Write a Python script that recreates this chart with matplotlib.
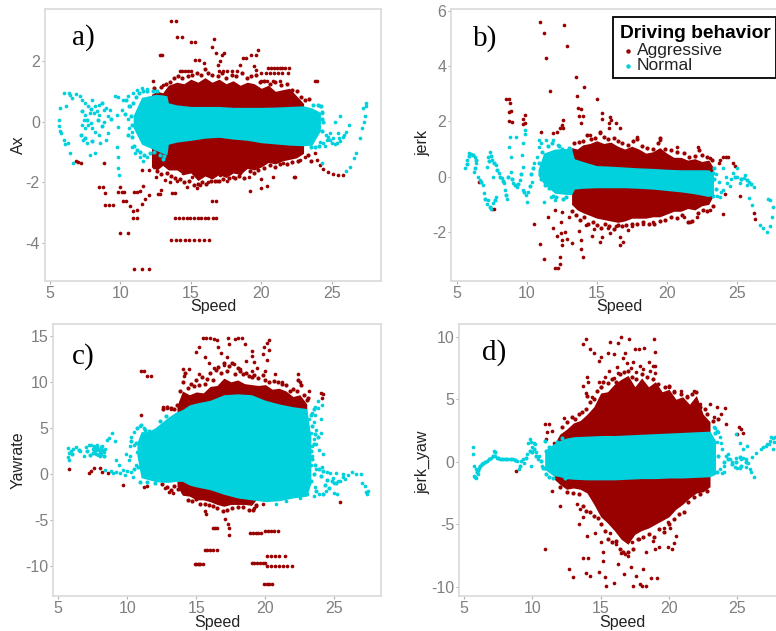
import matplotlib
matplotlib.use('Agg')
import matplotlib.pyplot as plt
from matplotlib.lines import Line2D
from matplotlib.patches import Rectangle

W, H = 776, 631
RED = '#990000'
CYAN = '#00D1DC'

# The dense middle of each cloud cannot be read point by point, so it is kept
# as the edges read off the picture and filled. Everything else is single points.

# panel a: Ax
a_red_band_x = [12.2, 12.6, 13.0, 13.4, 14.0, 14.5, 15.0, 15.5, 16.0, 16.5, 17.0, 17.5, 18.0, 18.5, 19.0, 19.5, 20.0, 20.5, 21.0, 21.5, 22.0, 22.5, 23.0]
a_red_band_hi = [0.9, 1.0, 0.95, 1.2, 1.3, 1.25, 1.4, 1.3, 1.45, 1.3, 1.4, 1.25, 1.35, 1.2, 1.3, 1.25, 1.1, 1.2, 1.0, 1.05, 1.1, 0.85, 0.6]
a_red_band_lo = [-1.5, -1.6, -1.45, -1.6, -1.6, -1.75, -1.7, -1.95, -1.8, -1.9, -1.75, -1.85, -1.7, -1.75, -1.55, -1.6, -1.5, -1.35, -1.4, -1.3, -1.25, -1.2, -1.05]
a_cyan_band_x = [10.9, 11.5, 12.0, 12.5, 13.0, 13.3, 13.4, 14.0, 15.0, 16.0, 17.0, 18.0, 19.0, 20.0, 21.0, 22.0, 23.0, 23.6, 24.2]
a_cyan_band_hi = [0.2, 0.8, 0.85, 0.9, 0.88, 0.85, 0.62, 0.55, 0.5, 0.5, 0.5, 0.47, 0.47, 0.47, 0.48, 0.5, 0.52, 0.45, 0.3]
a_cyan_band_lo = [-0.2, -0.75, -0.85, -0.95, -1.05, -1.1, -0.75, -0.68, -0.62, -0.55, -0.52, -0.58, -0.62, -0.7, -0.74, -0.78, -0.8, -0.78, -0.3]
a_red_x = [13.6, 13.92, 14.0, 14.35, 15.0, 15.3, 12.8, 12.95, 16.67, 16.5, 16.8, 17.35, 17.2, 17.05, 16.95, 15.3, 15.55, 15.9, 18.7, 18.9, 18.5, 19.3, 19.6, 19.8, 19.45, 19.6,
           20.5, 20.7, 20.9, 21.1, 21.3, 21.5, 21.7, 22.0, 14.2, 14.4, 14.6, 14.8, 15.0, 17.0, 17.3, 17.6, 17.9, 18.3, 20.0, 20.3, 20.6, 20.9, 21.2, 21.5, 21.9, 20.0, 20.4, 20.8, 21.3, 23.8, 23.95, 12.3, 13.0,
           13.9, 14.15, 14.45, 14.7, 14.95, 15.2, 15.5, 15.75, 16.0, 16.25, 16.55, 16.8, 13.6, 13.95, 14.25, 14.55, 14.85, 15.2, 15.55, 15.9, 16.3, 10.95, 11.5, 12.05, 10.0, 10.5, 10.9, 11.2, 10.9, 11.2, 10.7, 10.2, 10.4, 8.9, 9.2, 9.5, 8.5, 8.75, 8.9, 10.0, 9.85, 10.1, 10.25, 10.95, 11.15, 11.4, 11.6, 11.75, 11.55, 12.0, 12.65, 12.8, 12.85, 13.65, 13.9, 16.5, 16.8, 19.2, 20.0, 20.4, 20.85, 22.3, 22.4, 20.0, 6.85, 7.0, 7.2, 8.8,
           23.8, 23.95, 24.2, 24.4, 24.75, 25.1, 25.45, 25.8, 14.7, 15.4, 15.65, 16.25, 16.85, 17.55, 18.0, 19.1, 14.0, 13.5, 13.15, 12.55, 12.0, 11.5, 12.35, 14.45, 15.05, 15.9, 17.05, 18.5, 19.7, 21.55, 22.75, 23.1]
a_red_y = [3.32, 3.32, 2.78, 2.78, 2.62, 2.62, 2.2, 2.2, 2.73, 2.45, 2.26, 2.28, 2.2, 2.0, 1.87, 2.04, 2.04, 1.93, 2.09, 2.09, 1.87, 2.2, 2.2, 2.37, 1.84, 1.7,
           1.78, 1.78, 1.78, 1.78, 1.78, 1.78, 1.78, 1.78, 1.68, 1.68, 1.68, 1.68, 1.68, 1.68, 1.68, 1.68, 1.68, 1.68, 1.6, 1.6, 1.6, 1.6, 1.6, 1.6, 1.6, 1.33, 1.33, 1.33, 1.33, 1.33, 1.33, 1.33, 1.2,
           -3.2, -3.2, -3.2, -3.2, -3.2, -3.2, -3.2, -3.2, -3.2, -3.2, -3.2, -3.2, -3.93, -3.93, -3.93, -3.93, -3.93, -3.93, -3.93, -3.93, -3.93, -4.88, -4.88, -4.88, -3.7, -3.7, -3.2, -3.2, -2.95, -2.92, -2.78, -2.62, -2.64, -2.75, -2.75, -2.75, -2.17, -2.17, -2.35, -2.17, -2.34, -2.34, -2.32, -2.32, -2.32, -2.3, -2.13, -2.57, -2.73, -2.42, -2.4, -2.4, -2.26, -2.37, -2.37, -2.61, -2.61, -2.28, -2.2, -2.12, -1.84, -1.82, -1.82, -1.9, -1.29, -1.34, -1.38, -1.36,
           -1.05, -1.27, -1.45, -1.56, -1.66, -1.74, -1.78, -1.76, -2.15, -2.2, -2.1, -2.0, -1.98, -1.98, -1.82, -1.82, -1.98, -2.0, -1.93, -1.82, -1.6, -1.6, -1.5, -1.7, -1.82, -1.7, -1.76, -1.7, -1.5, -1.37, -1.27, -1.16]
a_cyan_x = [5.65, 5.65, 5.7, 5.75, 5.7, 6.1, 6.0, 6.05, 6.3, 6.45, 6.6, 6.35, 6.0, 6.45, 6.55, 6.85, 7.1, 7.25, 7.5, 7.7, 8.0, 8.2, 8.45, 7.5, 7.85, 8.1, 8.45, 8.8, 9.0, 9.25, 7.25, 7.5, 7.7, 8.0, 8.2, 8.45, 7.35, 7.6, 7.85, 8.2, 8.55, 9.0, 9.15, 8.8, 9.15, 9.6, 9.85, 9.75, 9.8, 9.75, 9.8, 9.85, 9.9, 10.2, 10.1, 10.55, 10.7, 10.9, 11.15, 11.5, 11.85, 10.8, 10.8, 11.0, 11.4, 11.6, 11.85, 10.5, 10.6, 7.4, 7.9, 8.3,
            27.4, 27.45, 27.25, 27.35, 27.3, 27.15, 27.0, 26.75, 26.6, 26.3, 26.05, 25.6, 25.25, 24.9, 26.2, 26.05, 25.8, 25.45, 25.1, 24.65, 24.4, 25.35, 24.75, 24.2, 24.05, 24.3, 24.15, 24.3, 24.5, 24.9, 25.2, 25.6, 25.9, 24.6, 25.0, 25.5]
a_cyan_y = [0.05, -0.15, -0.3, -0.37, 0.44, 0.5, -0.6, -0.75, -0.7, -1.05, -1.38, 0.94, 0.96, 0.88, 0.77, 0.91, 0.83, 0.72, 0.6, 0.5, 0.72, 0.5, 0.55, 0.22, 0.28, 0.28, 0.22, 0.38, 0.44, 0.38, -0.11, -0.22, -0.11, -0.22, -0.33, -0.44, -0.6, -0.72, -1.1, -1.05, -0.72, -0.6, -0.39, 0.0, 0.17, 0.83, 0.8, 0.22, -0.17, -0.83, -1.16, -1.54, -1.76, 0.72, 0.38, 0.83, 0.5, 0.94, 1.05, 1.1, 1.07, -0.33, -0.83, -1.05, -1.16, -1.32, -1.16, 0.1, -0.2, 0.05, -0.05, 0.35,
            0.6, 0.5, 0.44, 0.17, 0.0, -0.22, -0.55, -1.05, -1.2, -1.5, -1.65, 0.17, 0.0, -0.39, -0.11, -0.33, -0.5, -0.39, -0.55, -0.6, -0.72, -0.72, -0.5, -0.66, -0.17, 0.28, 0.5, -1.38, -0.8, -0.6, -0.75, -0.65, -0.45, -0.45, -0.7, -0.55]
a_red_edge = [(12.4, 1.1), (12.9, 1.15), (13.2, 1.25), (13.5, 1.3), (13.8, 1.45), (14.1, 1.5), (14.4, 1.45), (14.8, 1.5), (15.1, 1.55), (15.4, 1.6), (15.7, 1.55), (16.0, 1.75), (16.2, 1.6), (16.5, 1.55), (16.9, 1.5), (17.2, 1.6), (17.5, 1.45), (17.9, 1.55), (18.2, 1.5), (18.6, 1.6), (19.0, 1.45), (19.3, 1.5), (19.6, 1.55), (19.9, 1.3), (20.2, 1.35), (20.6, 1.25), (21.0, 1.3), (21.4, 1.2), (21.8, 1.25), (22.2, 1.05), (22.5, 1.0), (22.8, 0.8), (23.1, 0.7), (23.4, 0.75),
              (12.6, -1.65), (12.9, -1.75), (13.3, -1.7), (13.6, -1.8), (13.9, -1.85), (14.2, -1.9), (14.5, -2.0), (14.9, -1.95), (15.2, -2.1), (15.5, -2.05), (15.8, -2.0), (16.1, -2.05), (16.4, -1.95), (16.7, -1.95), (17.0, -1.95), (17.3, -1.9), (17.7, -1.85), (18.1, -1.85), (18.4, -1.8), (18.8, -1.85), (19.2, -1.65), (19.5, -1.7), (19.8, -1.6), (20.2, -1.55), (20.6, -1.45), (21.0, -1.5), (21.3, -1.4), (21.8, -1.4), (22.2, -1.35), (22.6, -1.3), (23.3, -1.1), (23.5, -1.3)]
a_cyan_edge = [(10.75, 0.2), (10.8, -0.1), (10.8, -0.5), (10.9, 0.6), (10.95, -0.8), (11.1, 0.8), (11.2, -0.95), (11.3, 0.95), (11.4, -1.0), (11.6, 1.0), (11.7, -1.1), (11.9, 1.0), (12.1, -1.05), (12.3, 1.0), (12.6, 1.0), (12.8, -1.1), (13.0, -1.25), (13.1, -1.15), (12.4, -1.0), (24.3, 0.3), (24.3, -0.3), (24.35, 0.0), (24.3, 0.1), (24.25, 0.5), (24.0, 0.55), (23.7, 0.55), (23.5, -0.85), (23.8, -0.85), (24.1, -0.8),
               (7.3, 0.35), (7.6, 0.05), (7.9, 0.4), (8.4, 0.05), (8.7, -0.15), (7.2, -0.45), (7.5, -0.55), (8.0, -0.65), (8.7, 0.6), (9.3, 0.1), (10.5, -0.45), (10.3, 0.25), (10.6, 0.5), (10.4, 0.7)]

# panel b: jerk
b_red_band_x = [13.2, 13.6, 14.0, 14.5, 15.0, 15.5, 16.0, 16.5, 17.0, 17.5, 18.0, 18.5, 19.0, 19.5, 20.0, 20.5, 21.0, 21.5, 22.0, 22.5, 23.0, 23.3]
b_red_band_hi = [1.05, 1.0, 1.15, 1.2, 1.3, 1.2, 1.25, 1.1, 1.0, 1.1, 1.0, 0.85, 0.9, 1.05, 0.85, 0.7, 0.7, 0.6, 0.65, 0.55, 0.6, 0.35]
b_red_band_lo = [-1.0, -1.2, -1.3, -1.4, -1.5, -1.55, -1.6, -1.65, -1.6, -1.5, -1.5, -1.5, -1.45, -1.45, -1.35, -1.25, -1.25, -1.15, -1.2, -1.05, -1.0, -0.7]
b_cyan_band_x = [10.8, 11.2, 12.0, 13.0, 13.2, 13.4, 14.0, 15.0, 16.0, 17.0, 18.0, 19.0, 20.0, 21.0, 22.0, 23.0, 23.3]
b_cyan_band_hi = [0.25, 0.85, 1.0, 1.02, 1.0, 0.65, 0.55, 0.4, 0.38, 0.35, 0.32, 0.3, 0.27, 0.25, 0.25, 0.25, 0.1]
b_cyan_band_lo = [0.05, -0.25, -0.6, -0.65, -0.65, -0.45, -0.42, -0.4, -0.4, -0.4, -0.42, -0.45, -0.5, -0.55, -0.62, -0.72, -0.65]
b_red_x = [10.95, 11.2, 11.35, 12.65, 12.9, 11.65, 13.55, 14.1, 13.6, 15.0, 8.5, 8.75, 8.8, 8.75, 8.85, 8.7, 8.95, 9.85, 9.75, 9.9, 9.75, 13.65, 13.9, 13.7, 14.0, 13.9, 12.6, 12.5, 12.6, 12.4, 11.0, 11.9, 12.15, 15.4, 15.35, 15.95, 16.05, 15.85, 15.85, 16.4, 16.65, 15.2, 14.5, 17.85, 19.5, 20.7, 22.25, 23.1, 23.7, 23.8, 24.05, 24.4, 24.7, 24.9, 24.2,
           12.05, 12.25, 12.35, 12.4, 11.25, 10.95, 10.5, 14.0, 13.9, 13.9, 12.55, 12.5, 12.85, 12.15, 12.45, 12.75, 11.85, 11.55, 12.05, 12.45, 12.5, 13.0, 13.2, 13.7, 14.65, 15.25, 15.35, 16.65, 16.65, 16.9, 17.2, 15.95, 7.5, 7.65, 6.6, 26.25, 26.3, 24.05, 24.15, 25.25, 23.1, 21.65, 22.15, 21.2, 14.2, 14.8, 15.8, 16.4, 17.5, 18.3, 19.0]
b_red_y = [5.6, 5.18, 4.3, 5.48, 4.72, 3.1, 3.6, 3.23, 2.9, 2.82, 2.8, 2.8, 2.65, 2.35, 2.38, 2.02, 1.96, 2.23, 2.1, 1.93, 1.9, 2.5, 2.43, 2.2, 2.2, 1.93, 2.05, 1.87, 1.75, 1.75, 1.6, 1.57, 1.63, 2.3, 2.1, 2.17, 2.05, 1.93, 1.75, 1.95, 1.75, 1.57, 1.5, 1.45, 1.33, 1.08, 1.08, 0.66, 0.48, 0.6, 0.7, 0.7, 0.5, 0.4, 0.72,
           -3.29, -3.29, -3.17, -2.9, -2.96, -2.43, -1.71, -2.9, -2.63, -2.29, -2.47, -2.29, -2.27, -2.14, -2.05, -2.0, -1.87, -1.45, -1.2, -1.63, -1.27, -1.45, -2.41, -1.95, -2.14, -2.35, -2.17, -2.19, -2.47, -2.35, -1.93, -2.05, -1.17, -1.17, -0.18, -1.33, -1.53, -1.35, -0.63, -0.7, -1.2, -1.63, -1.45, -1.45, -1.75, -1.9, -1.85, -1.8, -1.8, -1.7, -1.65]
b_cyan_x = [5.6, 5.75, 5.85, 6.05, 6.3, 6.4, 6.25, 6.5, 6.65, 6.85, 6.95, 7.15, 7.25, 7.45, 7.6, 7.8, 7.4, 7.2, 7.15, 7.5, 7.8, 8.0, 7.6, 8.2, 8.45, 8.6, 8.35, 8.85, 9.05, 9.3, 9.5, 8.8, 8.75, 8.9, 9.25, 9.7, 9.85, 9.9, 9.65, 9.75, 9.75, 9.95, 10.1, 10.35, 10.5, 10.7, 10.05, 11.2, 10.85, 10.85, 11.05, 11.4, 11.9, 12.2, 11.7, 12.0,
            25.0, 25.5, 25.85, 26.2, 24.3, 24.05, 24.6, 25.25, 25.6, 24.75, 25.0, 25.85, 26.07, 26.67, 26.9, 27.15, 27.4, 27.55, 27.57, 27.4, 27.25, 23.5, 23.7, 23.9, 24.2, 23.6, 23.8, 24.5, 25.3, 25.7, 24.0]
b_cyan_y = [0.3, 0.6, 0.84, 0.82, 0.72, 0.48, 0.18, 0.0, -0.12, -0.3, -0.6, -1.0, -0.85, -1.18, -0.96, -0.72, 0.9, 0.72, 0.36, 0.6, 0.42, 0.12, 0.0, -0.06, -0.48, -0.8, -0.24, 0.18, -0.24, -0.36, -0.12, 1.45, 1.08, 0.72, 1.45, 1.2, 1.68, 1.55, 0.78, 0.36, -0.48, -0.66, -0.54, -0.18, 0.48, 0.72, -0.93, -0.93, 1.33, 1.08, 1.2, 1.33, 1.33, 1.15, -0.75, -0.85,
            0.0, -0.06, -0.18, -0.38, -0.24, -0.48, -0.1, -0.24, 0.06, 0.12, 0.3, -0.78, -1.02, -1.75, -1.87, -1.99, -1.8, -1.45, -1.08, -0.84, -0.8, 0.1, -0.2, -0.55, 0.0, -0.7, -0.75, -0.35, -0.1, -0.3, 0.3]
b_red_edge = [(13.4, 1.2), (13.7, 1.25), (14.0, 1.3), (14.3, 1.5), (14.6, 1.35), (14.9, 1.4), (15.2, 1.6), (15.5, 1.45), (15.8, 1.35), (16.2, 1.4), (16.5, 1.3), (16.8, 1.2), (17.2, 1.15), (17.6, 1.3), (17.85, 1.35), (18.2, 1.1), (18.6, 1.05), (19.0, 1.0), (19.4, 1.2), (19.55, 1.38), (19.9, 1.0), (20.3, 0.95), (20.7, 0.9), (21.2, 0.85), (21.6, 0.7), (22.0, 0.75), (22.3, 0.98), (22.5, 0.8), (22.9, 0.7), (23.2, 0.6),
              (13.2, -1.25), (13.5, -1.4), (13.8, -1.55), (14.1, -1.45), (14.4, -1.7), (14.7, -1.65), (15.0, -1.75), (15.3, -1.85), (15.6, -1.7), (15.9, -1.8), (16.2, -1.9), (16.5, -1.75), (16.8, -1.8), (17.1, -1.75), (17.5, -1.7), (17.9, -1.7), (18.3, -1.65), (18.7, -1.7), (19.1, -1.7), (19.5, -1.6), (19.9, -1.55), (20.3, -1.45), (20.7, -1.5), (21.1, -1.4), (21.5, -1.65), (21.8, -1.6), (22.2, -1.3), (22.6, -1.2), (22.9, -1.25), (23.3, -1.05)]
b_cyan_edge = [(10.85, 0.5), (11.0, -0.1), (11.1, 0.9), (11.3, -0.3), (11.5, 1.1), (11.6, -0.4), (11.8, 1.2), (11.9, -0.7), (12.1, -0.75), (12.3, 1.1), (12.5, 1.0), (12.6, -0.8), (12.8, -0.75), (13.0, 1.05), (13.1, 1.0), (23.3, 0.15), (23.4, -0.1), (23.5, -0.45), (23.4, 0.3), (23.3, -0.7),
               (5.7, 0.45), (5.9, 0.75), (6.15, 0.8), (6.35, 0.6), (6.3, 0.3), (6.75, -0.2), (7.05, -0.8), (7.35, -1.1), (7.7, -0.85), (7.3, 0.55), (7.45, 0.75), (7.65, 0.5), (7.9, 0.25), (8.1, 0.0), (8.3, -0.15), (8.55, -0.65), (8.65, 0.0), (8.95, -0.1), (9.15, -0.3), (9.4, -0.25), (9.6, 0.1), (9.8, -0.55), (10.2, -0.35), (10.3, 0.1), (10.45, 0.3), (24.9, 0.0), (25.3, -0.1), (25.7, -0.12), (26.0, -0.28)]

# panel c: Yawrate
c_red_band_x = [13.6, 14.0, 14.5, 15.0, 15.5, 16.0, 16.5, 17.0, 17.5, 18.0, 18.5, 19.0, 19.5, 20.0, 20.5, 21.0, 21.5, 22.0, 22.5, 23.0]
c_red_band_hi = [7.4, 9.0, 8.6, 8.9, 8.8, 9.5, 9.6, 10.4, 10.0, 10.2, 9.8, 9.7, 9.6, 9.7, 9.2, 9.3, 9.0, 8.4, 8.6, 7.6]
c_red_band_lo = [-1.3, -2.3, -2.4, -2.8, -2.8, -3.0, -3.3, -3.5, -3.3, -3.3, -3.3, -3.4, -2.5, -2.5, -2.0, -2.0, -2.0, -2.0, -2.0, -2.0]
c_cyan_band_x = [10.7, 11.0, 11.5, 12.0, 12.5, 13.0, 13.5, 14.0, 14.5, 15.0, 16.0, 17.0, 18.0, 19.0, 20.0, 21.0, 22.0, 23.0, 23.3]
c_cyan_band_hi = [3.4, 4.6, 4.6, 5.0, 5.6, 6.2, 6.7, 7.0, 7.5, 7.7, 8.0, 8.6, 8.7, 8.6, 8.0, 7.6, 7.3, 7.1, 4.0]
c_cyan_band_lo = [2.0, -0.4, -0.6, -0.8, -0.9, -0.9, -0.8, -0.8, -1.2, -1.4, -1.7, -2.2, -2.6, -2.8, -3.0, -2.9, -2.6, -2.4, -1.0]
c_red_x = [14.9, 15.0, 15.1, 15.2, 15.3, 15.45, 15.6, 15.8, 16.0, 16.2, 16.5, 16.2, 16.35, 16.5, 18.9, 19.1, 19.3, 19.5, 19.7, 20.0, 20.2, 20.4, 20.6, 20.9, 20.1, 20.4, 20.7, 21.0, 21.4, 19.0, 19.2, 19.4, 19.6, 19.8, 20.0, 20.1, 20.4, 20.7, 21.0, 21.3, 21.6, 21.9, 19.9, 20.1, 20.3, 20.5,
           15.5, 15.7, 16.0, 16.3, 16.5, 16.6, 17.3, 17.4, 17.8, 18.0, 18.3, 18.5, 19.0, 19.05, 19.9, 20.1, 20.3, 20.25, 15.0, 15.2, 15.6, 15.9, 16.8, 17.2, 18.6, 19.2, 19.4, 19.8, 20.1, 20.0, 14.0, 14.1, 14.5, 15.2, 16.3, 17.0, 17.7, 18.2, 19.0, 20.7, 21.2, 22.4, 22.5, 23.2, 24.0, 24.1, 24.2, 11.0, 11.2, 11.45, 11.7, 11.0, 12.6, 12.9, 13.2,
           5.75, 7.4, 7.6, 8.0, 8.2, 7.2, 8.6, 9.7, 11.2, 11.4, 12.7, 13.0, 13.3, 15.7, 15.6, 17.1, 17.3, 17.4, 17.35, 19.2, 19.3, 19.8, 25.4]
c_red_y = [-9.75, -9.75, -9.75, -9.75, -9.75, -9.75, -8.2, -8.2, -8.2, -8.2, -8.2, -5.9, -5.9, -5.9, -6.45, -6.45, -6.45, -6.45, -6.45, -6.2, -6.2, -6.2, -6.2, -6.2, -8.85, -8.85, -8.85, -8.85, -8.85, -9.7, -9.7, -9.7, -9.7, -9.7, -9.7, -10.0, -10.0, -10.0, -10.0, -10.0, -10.0, -10.0, -11.9, -11.9, -11.9, -11.9,
           14.7, 14.8, 14.8, 14.6, 14.5, 13.8, 14.7, 14.1, 14.6, 14.7, 14.7, 14.1, 13.3, 12.8, 13.8, 14.2, 14.5, 13.5, 13.2, 13.8, 12.7, 12.0, 13.1, 12.7, 12.3, 12.2, 11.5, 13.0, 12.4, 11.2, 11.4, 10.6, 11.4, 10.8, 11.5, 11.8, 11.9, 11.4, 11.2, 10.8, 10.0, 10.9, 10.0, 9.0, 8.8, 8.2, 8.7, 11.2, 11.2, 10.6, 10.6, 6.4, 7.3, 7.2, 7.0,
           0.5, 0.3, 0.7, 0.6, 0.2, 0.1, 0.1, -1.2, -1.4, -1.3, -1.5, -1.9, -2.1, -4.3, -4.0, -4.9, -5.4, -5.9, -6.6, -3.7, -3.5, -3.3, -3.0]
c_cyan_x = [5.7, 5.75, 5.8, 5.7, 5.9, 6.1, 6.3, 6.6, 6.9, 7.0, 7.2, 7.4, 7.5, 7.6, 7.7, 7.8, 7.9, 8.0, 8.1, 8.3, 8.4, 7.6, 7.8, 8.0, 8.2, 8.5, 8.7, 8.9, 9.1, 9.2, 9.4, 9.7, 10.0, 10.1, 9.9, 10.2, 10.3, 10.5, 10.3, 10.4, 9.8, 9.5, 9.2, 9.0, 8.8, 8.4, 10.7, 10.6, 10.5, 10.2, 10.9, 11.2, 11.5,
            23.2, 23.4, 23.6, 23.8, 23.5, 23.3, 23.7, 24.0, 23.5, 23.4, 23.7, 23.9, 24.2, 24.1, 23.6, 23.8, 24.0, 23.4, 24.1, 24.5, 24.9, 25.1, 25.3, 25.6, 25.8, 26.0, 26.3, 26.6, 26.9, 27.0, 27.2, 27.3, 27.45, 27.4, 24.7, 25.0, 25.4, 25.6, 24.4, 23.9, 23.5, 25.0, 25.2, 22.5, 21.5, 20.8, 23.0, 23.6, 23.3, 23.7]
c_cyan_y = [2.8, 1.5, 2.3, 1.8, 2.5, 2.7, 2.9, 2.5, 1.9, 2.9, 3.2, 3.1, 2.7, 2.4, 2.2, 2.8, 2.1, 2.5, 2.2, 2.4, 2.7, 3.0, 3.1, 2.0, 3.0, 3.7, 3.9, 4.4, 3.6, 1.5, 1.0, 0.4, 0.3, 1.5, 2.2, 3.0, 4.0, 3.1, 0.2, -0.3, -0.1, 0.1, 0.2, 0.1, 0.3, 0.4, 2.4, 1.0, 4.6, 2.0, 5.2, 5.0, 1.0,
            6.0, 6.6, 7.3, 7.9, 5.6, 4.4, 4.8, 4.4, 3.8, 3.0, 3.3, 2.6, 2.2, 7.5, 6.4, 7.2, 6.0, 1.9, 0.8, 0.2, -0.4, 0.1, -0.8, 0.0, -0.5, -0.1, 0.2, 0.0, 0.0, -1.0, -1.3, -1.9, -1.8, -2.2, 0.1, -1.0, -0.8, -0.3, -1.8, -2.2, -2.4, -2.1, -2.2, -2.6, -2.9, -3.2, -2.2, -1.4, 1.0, 0.5]
c_red_edge = [(13.8, 9.0), (14.0, 10.0), (14.2, 11.0), (14.4, 9.3), (14.6, 9.8), (14.8, 9.5), (15.0, 10.2), (15.2, 9.6), (15.4, 10.5), (15.6, 9.8), (15.8, 10.3), (16.0, 11.0), (16.2, 10.2), (16.4, 11.3), (16.6, 11.6), (16.8, 11.0), (17.0, 12.0), (17.2, 11.2), (17.4, 11.7), (17.6, 12.0), (17.8, 10.8), (18.0, 11.5), (18.2, 11.2), (18.4, 10.8), (18.6, 11.0), (18.8, 10.6), (19.0, 10.5), (19.2, 10.7), (19.5, 10.4), (19.8, 10.7), (20.0, 10.2), (20.3, 10.0), (20.6, 10.1), (20.9, 10.0), (21.2, 9.8), (21.5, 9.6), (21.8, 9.0), (22.0, 9.2), (22.3, 9.0), (22.4, 10.2), (22.6, 9.7), (22.8, 8.6), (23.1, 8.2), (23.0, 8.0),
              (12.5, -1.1), (12.9, -1.4), (13.2, -1.7), (13.4, -1.3), (13.7, -1.6), (14.0, -2.0), (14.4, -2.8), (14.7, -2.9), (15.0, -2.7), (15.3, -3.2), (15.6, -3.3), (15.9, -3.4), (16.2, -3.5), (16.5, -3.7), (16.9, -4.0), (17.2, -3.9), (17.6, -3.7), (18.0, -3.6), (18.4, -3.6), (18.8, -3.9), (19.1, -3.9), (19.3, -3.4), (12.6, 7.0), (12.9, 7.3), (13.2, 7.2), (13.4, 7.0), (13.6, 7.5), (13.9, 7.8), (14.2, 8.2)]
c_cyan_edge = [(10.7, 5.0), (11.0, 5.3), (11.3, 4.8), (11.6, 4.7), (10.9, -0.9), (11.4, -0.9), (12.0, -0.95), (10.5, 0.5), (10.8, 0.8), (10.6, 3.4), (10.3, 3.6), (12.4, 5.8), (12.8, 6.3), (23.3, 6.4), (23.5, 7.0), (23.4, 5.2), (23.6, 4.3), (23.8, 4.0), (23.5, 3.3), (23.3, 2.5), (23.4, 1.6), (23.6, 1.0), (23.9, 0.5), (24.2, 0.3), (23.3, -0.8), (23.5, 0.0), (24.0, -0.2), (24.5, -0.6), (24.8, -0.8), (24.3, -1.2), (23.7, -1.8), (24.2, -2.2), (24.6, -1.5), (25.1, -1.0),
               (7.5, 2.3), (7.7, 2.6), (7.9, 2.7), (8.1, 2.9), (8.3, 2.0), (7.6, 2.8), (8.0, 2.3), (8.2, 2.6), (6.0, 2.2), (6.5, 2.6), (7.1, 2.5), (7.3, 2.1)]

# panel d: jerk_yaw
d_red_band_x = [11.6, 12.0, 12.5, 13.0, 13.5, 14.0, 14.5, 15.0, 15.5, 16.0, 16.5, 17.0, 17.5, 18.0, 18.5, 19.0, 19.5, 20.0, 20.5, 21.0, 21.5, 22.0, 22.5, 23.0]
d_red_band_hi = [1.4, 2.2, 2.6, 3.1, 3.3, 3.8, 4.4, 5.5, 5.6, 6.2, 6.6, 6.9, 6.0, 6.7, 6.0, 6.4, 5.6, 5.8, 5.0, 5.2, 4.6, 5.3, 3.8, 3.2]
d_red_band_lo = [-1.4, -1.8, -2.2, -2.1, -2.2, -2.5, -3.4, -4.4, -4.9, -5.5, -6.2, -6.6, -5.8, -5.5, -5.3, -5.0, -4.7, -4.4, -3.8, -3.4, -2.9, -2.5, -2.4, -2.0]
d_cyan_band_x = [10.9, 11.5, 12.0, 12.5, 13.0, 14.0, 15.0, 16.0, 17.0, 18.0, 19.0, 20.0, 21.0, 22.0, 23.0, 23.4]
d_cyan_band_hi = [0.9, 1.4, 1.7, 1.9, 2.0, 2.05, 2.1, 2.1, 2.15, 2.2, 2.25, 2.3, 2.35, 2.4, 2.45, 1.7]
d_cyan_band_lo = [-0.6, -1.1, -1.2, -1.35, -1.4, -1.45, -1.45, -1.45, -1.4, -1.35, -1.35, -1.3, -1.3, -1.25, -1.2, -1.0]
d_red_x = [13.7, 13.9, 14.2, 14.5, 14.9, 15.0, 15.5, 15.7, 16.0, 16.3, 16.5, 16.8, 17.1, 17.5, 17.8, 18.2, 18.5, 18.9, 18.95, 19.0, 16.6, 16.9, 17.4, 17.9,
           14.0, 14.1, 13.7, 13.9, 14.4, 14.9, 15.3, 15.6, 16.0, 16.3, 17.2, 18.1, 18.8, 19.0, 18.6, 15.0, 16.2, 17.6, 20.0, 20.4, 20.9, 21.3, 21.8, 22.3, 23.0, 23.5, 23.8, 24.1, 23.3, 25.1, 25.3, 25.4, 25.0, 24.2,
           10.9, 11.1, 11.2, 11.4, 11.0, 11.6, 12.0, 12.3, 8.8, 10.9, 12.7, 13.0, 13.4, 13.7, 13.9, 14.1, 14.2, 14.9, 15.2, 15.3, 15.4, 16.0, 16.3, 16.7, 16.8, 17.2, 17.4, 17.6, 17.9, 18.0, 18.1, 18.3, 18.7, 19.1,
           13.3, 13.5, 13.7, 14.0, 14.6, 15.0, 15.2, 15.7, 16.1, 16.5, 17.0, 17.3, 17.8, 18.3, 18.8, 19.0, 19.3, 19.6, 19.9, 20.2, 20.4, 20.5, 20.1, 19.9, 11.4, 12.0]
d_red_y = [9.4, 9.8, 9.0, 8.7, 8.1, 8.4, 8.7, 9.6, 8.6, 9.5, 10.0, 8.7, 9.8, 9.0, 9.0, 9.1, 8.0, 9.8, 8.8, 7.7, 8.3, 7.9, 8.0, 7.7,
           6.8, 6.4, 6.1, 5.5, 5.2, 6.4, 6.8, 7.3, 6.7, 7.1, 7.5, 7.4, 7.7, 7.1, 7.3, 6.0, 7.6, 7.2, 6.0, 5.7, 5.7, 5.3, 5.7, 4.6, 4.6, 4.4, 3.8, 4.3, 3.6, 2.8, 2.6, 2.3, 2.2, 3.0,
           3.0, 2.4, 3.0, 2.5, 1.8, 1.5, 1.8, 3.5, -0.7, -7.0, -8.6, -9.2, -5.0, -7.7, -8.9, -7.7, -9.1, -8.8, -7.9, -9.2, -9.9, -9.7, -8.2, -9.0, -7.4, -8.4, -9.9, -9.1, -9.8, -9.9, -8.6, -9.9, -9.3, -9.3,
           -3.4, -3.8, -4.4, -5.9, -5.7, -6.4, -7.2, -5.7, -6.6, -7.3, -7.5, -6.4, -6.2, -7.2, -6.3, -7.0, -6.8, -5.3, -6.8, -7.0, -6.5, -5.9, -5.3, -4.8, -2.3, -3.5]
d_cyan_x = [5.65, 5.65, 5.7, 5.75, 5.85, 6.0, 5.9, 6.1, 6.4, 6.7, 7.0, 7.2, 7.3, 7.4, 7.6, 7.9, 8.2, 8.6, 8.9, 9.0, 9.3, 9.6, 9.7, 9.8, 9.9, 10.0, 10.1, 10.2, 10.3, 10.5, 10.7, 9.4, 9.2, 9.9, 10.4,
            23.3, 23.4, 23.5, 23.6, 23.7, 23.8, 23.9, 23.5, 23.7, 24.0, 24.2, 24.5, 24.8, 25.0, 25.2, 25.4, 25.6, 25.8, 26.0, 26.2, 24.3, 24.6, 24.9, 25.3, 25.6, 25.9, 24.9, 25.2, 25.4, 25.7, 26.1, 26.4, 26.7, 26.9, 27.1, 27.2, 27.4, 27.45, 27.35, 27.6, 27.7, 27.75, 27.6, 24.0, 23.9]
d_cyan_y = [1.2, 0.6, -0.3, -1.1, -1.3, -1.0, -0.6, -0.5, -0.1, 0.1, 0.3, 0.9, 0.5, 0.3, 0.2, 0.25, 0.2, 0.25, 0.1, -0.6, 0.2, 0.6, 1.5, 1.8, 1.6, 1.2, 1.5, 1.4, 0.8, 0.5, -0.3, -0.1, 0.1, -0.3, 0.2,
            2.8, 2.7, 2.5, 2.4, 2.0, 1.5, 1.0, 1.6, -0.6, -0.8, 0.5, 0.2, -0.4, -0.5, -0.5, 0.3, 0.2, -0.1, -0.8, -1.2, 0.6, 0.0, 0.3, 0.2, -0.4, -0.6, 2.2, 1.5, 1.0, 1.3, 0.4, 0.7, 1.0, 1.2, 1.3, 1.4, 1.7, 2.0, 1.4, 1.0, 1.6, 2.0, 1.9, -0.3, -0.9]
d_red_edge = [(12.2, 2.8), (12.5, 3.2), (12.9, 3.6), (13.1, 3.4), (13.4, 3.8), (13.6, 4.0), (13.9, 4.2), (14.0, 5.3), (14.2, 4.8), (14.5, 5.0), (14.7, 5.7), (15.0, 6.0), (15.2, 6.4), (15.5, 6.3), (15.8, 6.6), (16.1, 6.4), (16.4, 7.0), (16.7, 7.2), (17.0, 7.3), (17.3, 6.8), (17.6, 6.6), (18.0, 7.0), (18.4, 6.8), (18.8, 6.6), (19.2, 6.2), (19.7, 6.0), (20.0, 6.1), (20.4, 5.6), (20.9, 5.4), (21.3, 5.2), (21.7, 5.4), (22.0, 5.6), (22.3, 4.4), (22.6, 4.2), (22.8, 3.8), (23.2, 3.3), (23.6, 3.4),
              (12.0, -2.0), (12.5, -2.4), (13.0, -2.5), (13.4, -2.6), (13.7, -3.5), (13.9, -3.9), (14.2, -4.0), (14.5, -4.3), (14.8, -4.5), (15.0, -5.0), (15.3, -5.5), (15.5, -6.2), (15.8, -6.4), (16.1, -6.3), (16.4, -7.0), (16.6, -7.2), (17.0, -7.2), (17.4, -7.0), (17.7, -6.2), (18.1, -6.0), (18.5, -5.8), (18.9, -6.0), (19.3, -5.4), (19.6, -5.6), (20.0, -5.0), (20.4, -4.6), (20.7, -4.2), (21.1, -4.0), (21.4, -3.2), (21.8, -2.8), (22.3, -2.6), (22.8, -2.3)]
d_cyan_edge = [(10.9, 1.7), (11.0, 0.9), (11.2, 1.2), (10.95, -0.5), (11.0, -1.0), (11.2, -1.2), (11.5, -1.3), (11.8, 1.6), (12.2, 1.9), (12.4, -1.3), (23.4, 2.3), (23.5, -0.8), (23.6, 0.5), (24.0, 0.0), (24.3, 0.2), (24.6, -0.2), (24.9, 0.0), (25.3, -0.3), (25.6, 0.0), (25.2, 0.35),
               (6.2, -0.3), (6.55, 0.0), (6.85, 0.2), (7.1, 0.5), (7.25, 0.8), (7.5, 0.3), (7.75, 0.25), (8.05, 0.25), (8.4, 0.25), (8.75, 0.15), (9.1, -0.3), (9.5, 0.3), (9.8, 0.9), (10.0, 0.8), (10.15, 1.0), (10.25, 0.5), (10.6, 0.1), (10.8, -0.5), (5.8, -1.2), (5.95, -0.8), (6.05, -0.65), (6.3, -0.2)]

x_ticks = [5, 10, 15, 20, 25]
a_y_ticks = [-4, -2, 0, 2]
b_y_ticks = [-2, 0, 2, 4, 6]
c_y_ticks = [-10, -5, 0, 5, 10, 15]
d_y_ticks = [-10, -5, 0, 5, 10]

plt.rcParams['font.family'] = ['Liberation Sans', 'DejaVu Sans']
plt.rcParams['axes.unicode_minus'] = False
fig = plt.figure(figsize=(W / 100, H / 100), dpi=100)


def panel(box, xlim, ylim, yticks, ylabel, tag, tag_xy, xlab_xy, ylab_xy, red, cyan):
    left, top, right, bottom = box
    ax = fig.add_axes([left / W, 1 - bottom / H, (right - left) / W, (bottom - top) / H])
    bx, bhi, blo, px, py, edge = red
    ax.fill_between(bx, blo, bhi, color=RED, lw=0)
    ax.scatter(px, py, s=7, color=RED, linewidths=0)
    ax.scatter([p[0] for p in edge], [p[1] for p in edge], s=9, color=RED, linewidths=0)
    bx, bhi, blo, px, py, edge = cyan
    ax.fill_between(bx, blo, bhi, color=CYAN, lw=0)
    ax.scatter(px, py, s=7, color=CYAN, linewidths=0)
    ax.scatter([p[0] for p in edge], [p[1] for p in edge], s=9, color=CYAN, linewidths=0)
    ax.set_xlim(xlim)
    ax.set_ylim(ylim)
    ax.set_xticks(x_ticks)
    ax.set_yticks(yticks)
    ax.tick_params(labelcolor='#7f7f7f', labelsize=11.5, length=2, width=0.8, pad=1.5, color='#b0b0b0')
    for s in ax.spines.values():
        s.set_color('#dcdcdc')
        s.set_linewidth(1.3)
    if right >= W:
        ax.spines['right'].set_visible(False)
    ax.set_xlabel('Speed', fontsize=11.5, color='#222222')
    ax.set_ylabel(ylabel, fontsize=11.5, color='#222222')
    ax.xaxis.set_label_coords((xlab_xy[0] - left) / (right - left), (bottom - xlab_xy[1]) / (bottom - top))
    ax.yaxis.set_label_coords((ylab_xy[0] - left) / (right - left), (bottom - ylab_xy[1]) / (bottom - top))
    ax.xaxis.label.set_verticalalignment('center')
    ax.yaxis.label.set_verticalalignment('center')
    fig.text(tag_xy[0] / W, 1 - tag_xy[1] / H, tag, family='Liberation Serif', fontsize=21,
             color='black', ha='center', va='center')
    return ax


panel((44.7, 9, 381, 281), (4.62, 28.5), (-5.27, 3.72), a_y_ticks, 'Ax', 'a)', (83, 38), (213, 306), (18, 145),
      (a_red_band_x, a_red_band_hi, a_red_band_lo, a_red_x, a_red_y, a_red_edge),
      (a_cyan_band_x, a_cyan_band_hi, a_cyan_band_lo, a_cyan_x, a_cyan_y, a_cyan_edge))
panel((451, 9, 776, 281), (4.59, 27.8), (-3.77, 6.06), b_y_ticks, 'jerk', 'b)', (485, 39), (619, 306), (423, 143),
      (b_red_band_x, b_red_band_hi, b_red_band_lo, b_red_x, b_red_y, b_red_edge),
      (b_cyan_band_x, b_cyan_band_hi, b_cyan_band_lo, b_cyan_x, b_cyan_y, b_cyan_edge))
panel((53.3, 324, 381, 596), (4.64, 28.38), (-13.23, 16.27), c_y_ticks, 'Yawrate', 'c)', (83, 357), (217, 622), (18, 460),
      (c_red_band_x, c_red_band_hi, c_red_band_lo, c_red_x, c_red_y, c_red_edge),
      (c_cyan_band_x, c_cyan_band_hi, c_cyan_band_lo, c_cyan_x, c_cyan_y, c_cyan_edge))
panel((459, 324, 776, 596), (4.63, 27.83), (-10.74, 11.02), d_y_ticks, 'jerk_yaw', 'd)', (494, 353), (622, 622), (423, 462),
      (d_red_band_x, d_red_band_hi, d_red_band_lo, d_red_x, d_red_y, d_red_edge),
      (d_cyan_band_x, d_cyan_band_hi, d_cyan_band_lo, d_cyan_x, d_cyan_y, d_cyan_edge))

# legend sits over panel b, box runs off the right edge like the reference
fig.add_artist(Rectangle((612.5 / W, 1 - 78 / H), 163 / W, 61 / H, transform=fig.transFigure,
                         facecolor='white', edgecolor='black', lw=1.3, zorder=5))
fig.text(620 / W, 1 - 33 / H, 'Driving behavior', fontsize=13.8, fontweight='bold', color='black', va='center', zorder=6)
fig.text(637 / W, 1 - 51 / H, 'Aggressive', fontsize=12.5, color='#222222', va='center', zorder=6)
fig.text(637 / W, 1 - 66 / H, 'Normal', fontsize=12.5, color='#222222', va='center', zorder=6)
fig.add_artist(Line2D([628 / W], [1 - 51 / H], marker='o', ms=3.2, color=RED, mew=0, ls='none', zorder=6))
fig.add_artist(Line2D([628 / W], [1 - 66 / H], marker='o', ms=3.2, color=CYAN, mew=0, ls='none', zorder=6))

fig.savefig('out.png', dpi=100)
